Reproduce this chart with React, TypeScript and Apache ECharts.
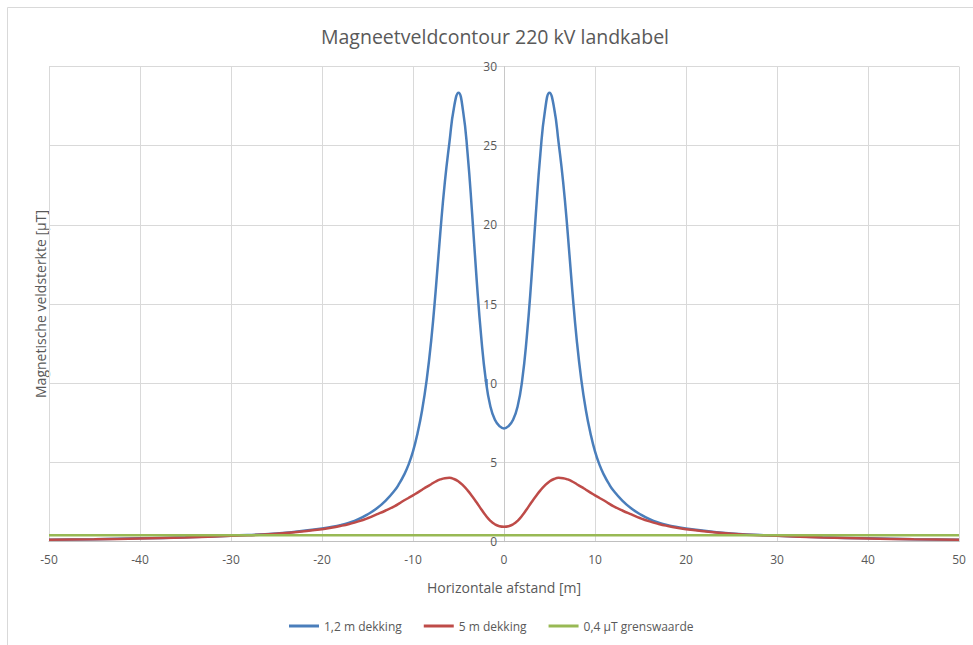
import React, { useEffect, useRef } from "react";
import * as echarts from "echarts";

const xValues = [
  -50, -45, -40, -35, -30, -25, -20, -19, -18, -17, -16, -15, -14, -13, -12, -11.5, -11, -10.5, -10, -9.5, -9, -8.5,
  -8, -7.5, -7, -6.5, -6, -5.5, -5, -4.5, -4, -3.5, -3, -2.5, -2, -1.5, -1, -0.5, 0, 0.5, 1, 1.5, 2, 2.5, 3, 3.5, 4,
  4.5, 5, 5.5, 6, 6.5, 7, 7.5, 8, 8.5, 9, 9.5, 10, 10.5, 11, 11.5, 12, 13, 14, 15, 16, 17, 18, 19, 20, 25, 30, 35, 40,
  45, 50,
];

const blueValues = [
  0.13, 0.16, 0.21, 0.28, 0.38, 0.52, 0.84, 0.93, 1.04, 1.2, 1.42, 1.72, 2.1, 2.6, 3.25, 3.68, 4.2, 4.85, 5.7, 6.85,
  8.3, 10.2, 12.7, 15.9, 19.5, 22.7, 25.2, 27.4, 28.35, 27.2, 24.5, 20.7, 16.5, 12.9, 10.2, 8.55, 7.7, 7.3, 7.15, 7.3,
  7.7, 8.55, 10.2, 12.9, 16.5, 20.7, 24.5, 27.2, 28.35, 27.4, 25.2, 22.7, 19.5, 15.9, 12.7, 10.2, 8.3, 6.85, 5.7,
  4.85, 4.2, 3.68, 3.25, 2.6, 2.1, 1.72, 1.42, 1.2, 1.04, 0.93, 0.84, 0.52, 0.38, 0.28, 0.21, 0.16, 0.13,
];

const redValues = [
  0.12, 0.15, 0.2, 0.27, 0.37, 0.5, 0.79, 0.88, 0.99, 1.12, 1.28, 1.48, 1.72, 1.97, 2.25, 2.42, 2.6, 2.76, 2.92, 3.1,
  3.28, 3.46, 3.63, 3.8, 3.93, 4.01, 4.03, 3.96, 3.8, 3.55, 3.24, 2.87, 2.47, 2.05, 1.65, 1.32, 1.1, 0.98, 0.95, 0.98,
  1.1, 1.32, 1.65, 2.05, 2.47, 2.87, 3.24, 3.55, 3.8, 3.96, 4.03, 4.01, 3.93, 3.8, 3.63, 3.46, 3.28, 3.1, 2.92, 2.76,
  2.6, 2.42, 2.25, 1.97, 1.72, 1.48, 1.28, 1.12, 0.99, 0.88, 0.79, 0.5, 0.37, 0.27, 0.2, 0.15, 0.12,
];

const greenX = [-50, 50];
const greenValues = [0.4, 0.4];

const seriesNames = ["1,2 m dekking", "5 m dekking", "0,4 µT grenswaarde"];
const titleText = "Magneetveldcontour 220 kV landkabel";
const xAxisName = "Horizontale afstand [m]";
const yAxisName = "Magnetische veldsterkte [µT]";

const FONT = "'Open Sans', sans-serif";
const TEXT = "#595959";

export default function App() {
  const ref = useRef<HTMLDivElement>(null);
  useEffect(() => {
    if (!ref.current) return;
    const chart = echarts.init(ref.current, undefined, { renderer: "svg" });
    const pairs = (xs: number[], ys: number[]) => xs.map((x, i) => [x, ys[i]]);
    chart.setOption({
      animation: false,
      backgroundColor: "#ffffff",
      textStyle: { fontFamily: FONT },
      title: {
        text: titleText,
        left: 490,
        top: 21,
        textAlign: "center",
        textStyle: { fontFamily: FONT, fontSize: 19.5, fontWeight: "normal", color: TEXT },
      },
      legend: {
        left: 284,
        top: 615,
        itemWidth: 30,
        itemHeight: 3,
        itemGap: 22,
        icon: "rect",
        textStyle: { fontFamily: FONT, fontSize: 12, color: TEXT },
        data: seriesNames,
      },
      grid: { left: 49, right: 14, top: 66.5, bottom: 103.3 },
      xAxis: {
        type: "value",
        min: -50,
        max: 50,
        interval: 10,
        name: xAxisName,
        nameLocation: "middle",
        nameGap: 39,
        nameTextStyle: { fontFamily: FONT, fontSize: 14, color: TEXT },
        axisLine: { onZero: false, lineStyle: { color: "#bfbfbf", width: 1 } },
        axisTick: { show: false },
        axisLabel: { fontFamily: FONT, fontSize: 12, color: TEXT, margin: 12 },
        splitLine: { show: true, lineStyle: { color: "#d9d9d9", width: 1 } },
      },
      yAxis: {
        type: "value",
        min: 0,
        max: 30,
        interval: 5,
        position: "left",
        offset: -455,
        axisLine: { show: true, onZero: false, lineStyle: { color: "#c8c8c8", width: 1 } },
        axisTick: { show: false },
        axisLabel: { fontFamily: FONT, fontSize: 12, color: TEXT, margin: 7 },
        splitLine: { show: true, lineStyle: { color: "#d9d9d9", width: 1 } },
      },
      graphic: [
        {
          type: "rect",
          shape: { x: 7.5, y: 7.5, width: 980, height: 660 },
          style: { fill: "none", stroke: "#d9d9d9", lineWidth: 1 },
          silent: true,
        },
        {
          type: "text",
          x: 40,
          y: 304,
          rotation: Math.PI / 2,
          style: {
            text: yAxisName,
            fontFamily: FONT,
            fontSize: 14,
            fill: TEXT,
            align: "center",
            verticalAlign: "middle",
          },
        },
      ],
      series: [
        {
          name: seriesNames[0],
          type: "line",
          data: pairs(xValues, blueValues),
          smooth: true,
          symbol: "none",
          lineStyle: { color: "#4a7ebb", width: 2.5 },
          itemStyle: { color: "#4a7ebb" },
        },
        {
          name: seriesNames[1],
          type: "line",
          data: pairs(xValues, redValues),
          smooth: true,
          symbol: "none",
          lineStyle: { color: "#be4b48", width: 2.5 },
          itemStyle: { color: "#be4b48" },
        },
        {
          name: seriesNames[2],
          type: "line",
          data: pairs(greenX, greenValues),
          symbol: "none",
          lineStyle: { color: "#98b954", width: 2.5 },
          itemStyle: { color: "#98b954" },
        },
      ],
    });
    return () => chart.dispose();
  }, []);
  return (
    <div
      ref={ref}
      style={{ position: "absolute", left: 0, top: 0, width: 973, height: 645 }}
    />
  );
}
